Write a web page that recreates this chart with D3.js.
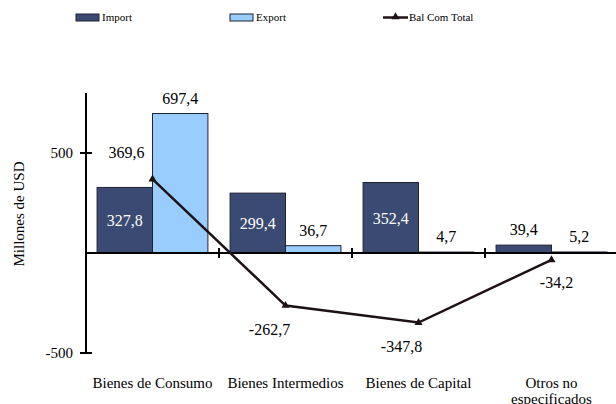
<!DOCTYPE html>
<html><head><meta charset="utf-8">
<script src="https://cdn.jsdelivr.net/npm/d3@7"></script>
<style>body{margin:0;background:#fff;}</style>
</head><body><svg id="c" width="616" height="404" font-family="'Liberation Serif', 'Times New Roman', Times, serif"></svg>
<script>
const categories = ["Bienes de Consumo","Bienes Intermedios","Bienes de Capital","Otros no especificados"];
const importVals = [327.8, 299.4, 352.4, 39.4];
const exportVals = [697.4, 36.7, 4.7, 5.2];
const balance = [369.6, -262.7, -347.8, -34.2];
const yTicks = [500, -500];
const seriesNames = ["Import","Export","Bal Com Total"];

const svg = d3.select("#c");
const fmt = v => v.toFixed(1).replace(".", ",");
const y = d3.scaleLinear().domain([-500, 800]).range([353, 93]);
const x = d3.scaleBand().domain(categories).range([86, 618]).paddingInner(0).paddingOuter(0);
const x1 = d3.scaleBand().domain(["Import","Export"]).range([0, x.bandwidth()]).paddingInner(0).paddingOuter(0.2);
const colors = {Import:"#3B4A72", Export:"#99CCFF"};
const lineColor = "#1c1213";

// bars
const series = [["Import", importVals], ["Export", exportVals]];
series.forEach(([name, vals]) => {
  svg.append("g").selectAll("rect").data(vals).join("rect")
    .attr("x", (d,i) => x(categories[i]) + x1(name))
    .attr("width", x1.bandwidth())
    .attr("y", d => y(Math.max(0,d)))
    .attr("height", d => Math.abs(y(d) - y(0)))
    .attr("fill", colors[name]).attr("stroke", "#1e2233").attr("stroke-width", 1);
});

// bar labels
series.forEach(([name, vals]) => {
  svg.append("g").selectAll("text").data(vals).join("text")
    .attr("x", (d,i) => x(categories[i]) + x1(name) + x1.bandwidth()/2)
    .attr("y", d => {
      const h = y(0) - y(d);
      if (name === "Import" && h > 30) return (y(d) + y(0))/2 + 6;
      return y(d) - 10;
    })
    .attr("text-anchor", "middle").attr("font-size", 16)
    .attr("fill", d => (name === "Import" && (y(0)-y(d)) > 30) ? "#fff" : "#000")
    .text(d => fmt(d));
});

// axes
const ax = svg.append("g").attr("stroke", "#000").attr("stroke-width", 2);
ax.append("line").attr("x1", 86).attr("x2", 86).attr("y1", y(800)).attr("y2", y(-500));
ax.append("line").attr("x1", 86).attr("x2", 616).attr("y1", y(0)).attr("y2", y(0));
yTicks.forEach(t => {
  ax.append("line").attr("x1", 80).attr("x2", 92).attr("y1", y(t)).attr("y2", y(t));
  svg.append("text").attr("x", 73).attr("y", y(t) + 5).attr("text-anchor", "end").attr("font-size", 15).text(t);
});
categories.forEach((c,i) => {
  if (i > 0) ax.append("line").attr("x1", x(c)).attr("x2", x(c)).attr("y1", y(0)-5).attr("y2", y(0)+5);
});

// category labels
categories.forEach(c => {
  const cx = x(c) + x.bandwidth()/2;
  const lines = c === "Otros no especificados" ? ["Otros no", "especificados"] : [c];
  lines.forEach((l, j) => {
    svg.append("text").attr("x", cx).attr("y", 388 + j*16).attr("text-anchor", "middle").attr("font-size", 15).text(l);
  });
});

// y axis title
svg.append("text").attr("transform", "translate(24,214) rotate(-90)").attr("text-anchor", "middle").attr("font-size", 15).text("Millones de USD");

// balance line
const lx = (d,i) => x(categories[i]) + x.bandwidth()/2;
svg.append("path").datum(balance)
  .attr("d", d3.line().x(lx).y(d => y(d)))
  .attr("fill", "none").attr("stroke", lineColor).attr("stroke-width", 2.5);
svg.append("g").selectAll("path").data(balance).join("path")
  .attr("transform", (d,i) => `translate(${lx(d,i)},${y(d)})`)
  .attr("d", d3.symbol(d3.symbolTriangle, 28)).attr("fill", lineColor);
const lblOff = [[-26,-21],[-16,29],[-17,29],[5,28]];
svg.append("g").selectAll("text").data(balance).join("text")
  .attr("x", (d,i) => lx(d,i) + lblOff[i][0])
  .attr("y", (d,i) => y(d) + lblOff[i][1])
  .attr("text-anchor", "middle").attr("font-size", 16).text(d => fmt(d));

// legend
const lg = svg.append("g");
lg.append("rect").attr("x", 76).attr("y", 14).attr("width", 23).attr("height", 7).attr("fill", colors.Import).attr("stroke", "#1e2233");
lg.append("text").attr("x", 102).attr("y", 21).attr("font-size", 11).text(seriesNames[0]);
lg.append("rect").attr("x", 230).attr("y", 14).attr("width", 23).attr("height", 7).attr("fill", colors.Export).attr("stroke", "#1e2233");
lg.append("text").attr("x", 256).attr("y", 21).attr("font-size", 11).text(seriesNames[1]);
lg.append("line").attr("x1", 383).attr("x2", 408).attr("y1", 17.5).attr("y2", 17.5).attr("stroke", lineColor).attr("stroke-width", 2.5);
lg.append("path").attr("transform", "translate(395.5,17)").attr("d", d3.symbol(d3.symbolTriangle, 28)).attr("fill", lineColor);
lg.append("text").attr("x", 409).attr("y", 21).attr("font-size", 11).text(seriesNames[2]);
</script></body></html>
